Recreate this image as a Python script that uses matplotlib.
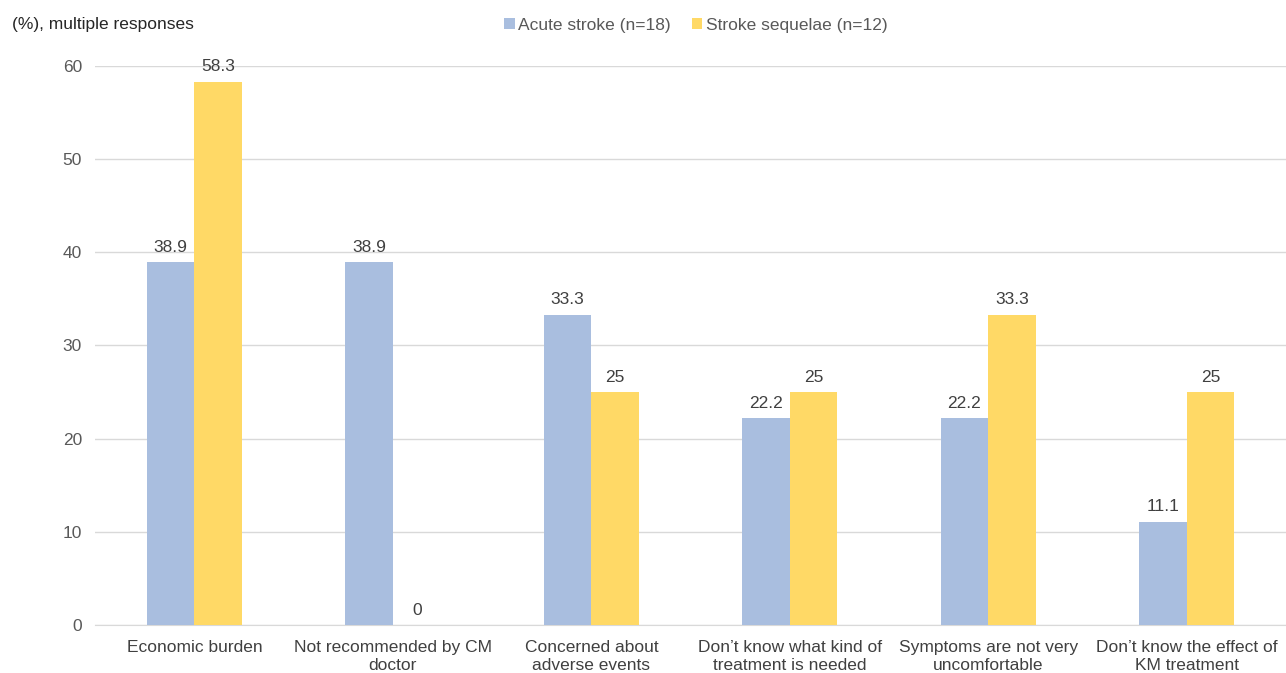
import numpy as np
import matplotlib.pyplot as plt

plt.rcParams['font.family'] = ['Liberation Sans', 'DejaVu Sans']

# 数据
categories = ['Economic burden', 'Not recommended by CM\ndoctor',
              'Concerned about\nadverse events',
              'Don\u2019t know what kind of\ntreatment is needed',
              'Symptoms are not very\nuncomfortable',
              'Don\u2019t know the effect of\nKM treatment']
acute = [38.9, 38.9, 33.3, 22.2, 22.2, 11.1]
sequelae = [58.3, 0, 25, 25, 33.3, 25]
acute_labels = ['38.9', '38.9', '33.3', '22.2', '22.2', '11.1']
sequelae_labels = ['58.3', '0', '25', '25', '33.3', '25']

blue = '#A9BEDF'
yellow = '#FFD966'
text_c = '#404040'
fs = 12.5

fig = plt.figure(figsize=(12.86, 6.73), dpi=100)
ax = fig.add_axes([0.074, 0.0713, 0.926, 0.831])

x = np.arange(len(categories))
w = 0.24
b1 = ax.bar(x - w / 2, acute, w, color=blue, label='Acute stroke (n=18)', zorder=3)
b2 = ax.bar(x + w / 2, sequelae, w, color=yellow, label='Stroke sequelae (n=12)', zorder=3)

for rect, s in zip(b1, acute_labels):
    ax.text(rect.get_x() + rect.get_width() / 2, rect.get_height() + 0.8, s,
            ha='center', va='bottom', fontsize=fs, color=text_c)
for rect, s in zip(b2, sequelae_labels):
    ax.text(rect.get_x() + rect.get_width() / 2, rect.get_height() + 0.8, s,
            ha='center', va='bottom', fontsize=fs, color=text_c)

ax.set_xlim(-0.5, 5.5)
ax.set_ylim(0, 60)
ax.set_yticks(range(0, 61, 10))
ax.set_xticks(x)
ax.set_xticklabels(categories, fontsize=fs, color=text_c)
ax.tick_params(axis='y', labelsize=fs, colors='#595959', length=0, pad=9.5)
ax.tick_params(axis='x', length=0, pad=11)
ax.yaxis.grid(True, color='#D9D9D9', linewidth=1, zorder=0)
for sp in ['top', 'right', 'left']:
    ax.spines[sp].set_visible(False)
ax.spines['bottom'].set_color('#D9D9D9')

fig.text(0.009, 0.963, '(%), multiple responses', fontsize=fs, color='#262626',
         ha='left', va='center')
fig.legend(loc='center', bbox_to_anchor=(0.541, 0.962), ncol=2, frameon=False,
           fontsize=fs, handlelength=0.6, handleheight=0.6, handletextpad=0.2,
           columnspacing=1.2, labelcolor='#595959')

fig.savefig('out.png', dpi=100)
